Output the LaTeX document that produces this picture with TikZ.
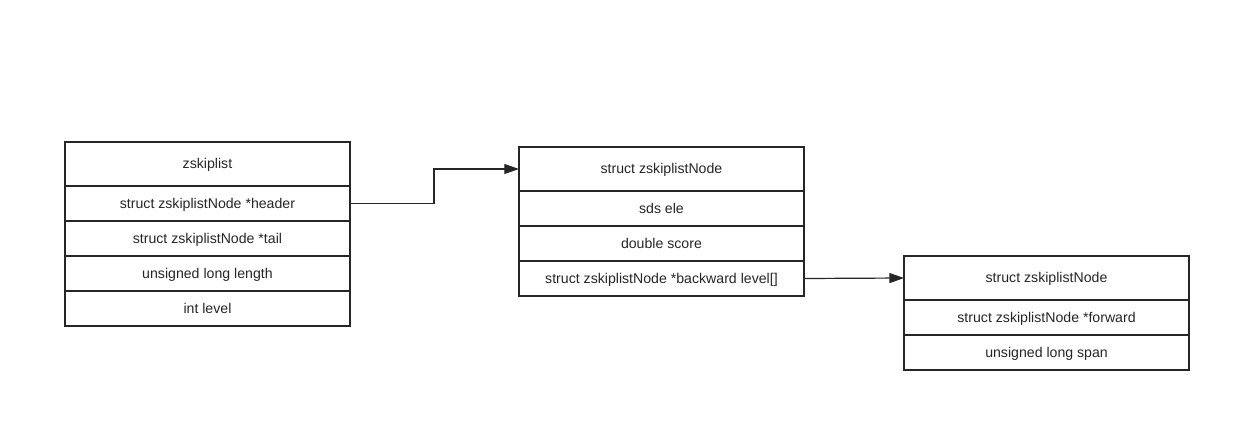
\documentclass[tikz,border=0pt]{standalone}
\usepackage{fontspec}
\setmainfont{Liberation Sans}
\usepackage{tikz}
\usetikzlibrary{positioning,arrows.meta}
\tikzset{
    field-box/.style = {draw=black!85, fill=white, line width=0.9pt, rectangle, outer sep=0pt, minimum width=213.75pt, minimum height=26.25pt, text height=1.5ex, text depth=0.15ex, font=\fontsize{10.6pt}{12pt}\selectfont, text=black!85},
    field-title/.style = {field-box, minimum height=33pt},
    link-arrow/.style = {draw=black!85, line width=0.9pt, -{Triangle[length=11pt, width=7.5pt]}},
}
\begin{document}
\begin{tikzpicture}
\useasboundingbox (0,0) rectangle (938.25pt,-324pt);
% zskiplist
\node [field-title] (list) at (155.6pt,-123pt) {zskiplist};
\node [field-box, below=0pt of list] (header) {struct zskiplistNode *header};
\node [field-box, below=0pt of header] (tail) {struct zskiplistNode *tail};
\node [field-box, below=0pt of tail] (length) {unsigned long length};
\node [field-box, below=0pt of length] (level) {int level};
% zskiplistNode
\node [field-title] (node) at (496.1pt,-126.75pt) {struct zskiplistNode};
\node [field-box, below=0pt of node] (ele) {sds ele};
\node [field-box, below=0pt of ele] (score) {double score};
\node [field-box, below=0pt of score] (backward) {struct zskiplistNode *backward level[]};
% zskiplistLevel
\node [field-title] (lvl) at (784.9pt,-208.5pt) {struct zskiplistNode};
\node [field-box, below=0pt of lvl] (forward) {struct zskiplistNode *forward};
\node [field-box, below=0pt of forward] (span) {unsigned long span};
% links
\draw [link-arrow] (header.east) -- ++(63pt,0) |- (node.west);
\draw [link-arrow] (backward.east) -- (lvl.west);
\end{tikzpicture}
\end{document}
